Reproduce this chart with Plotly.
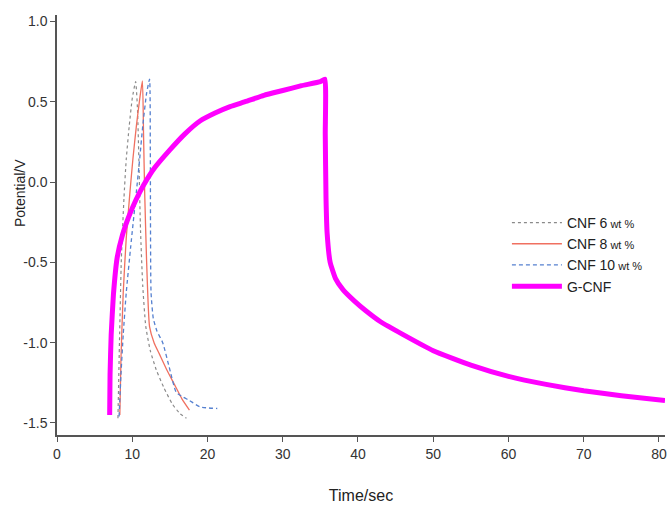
import plotly.graph_objects as go

# Galvanostatic charge/discharge curves
t_cnf6 = [8.1, 8.3, 8.55, 8.9, 9.2, 9.6, 10.0, 10.45, 10.7, 10.9, 11.1, 11.4, 11.8, 12.4, 13.2, 14.2, 15.3, 16.3, 17.2]
v_cnf6 = [-1.47, -1.0, -0.48, -0.1, 0.14, 0.35, 0.52, 0.625, 0.45, 0.1, -0.3, -0.65, -0.9, -1.05, -1.17, -1.28, -1.38, -1.44, -1.47]

t_cnf8 = [8.35, 8.5, 8.8, 9.2, 9.7, 10.1, 10.55, 11.0, 11.35, 11.5, 11.65, 11.9, 12.3, 12.9, 13.6, 14.6, 15.6, 16.6, 17.6]
v_cnf8 = [-1.45, -1.1, -0.69, -0.35, -0.06, 0.15, 0.35, 0.52, 0.63, 0.3, -0.06, -0.48, -0.9, -1.0, -1.07, -1.17, -1.26, -1.35, -1.42]

t_cnf10 = [8.25, 8.5, 8.8, 9.2, 9.8, 10.55, 11.0, 11.4, 11.9, 12.3, 12.4, 12.5, 12.8, 13.3, 14.05, 14.9, 15.85, 16.8, 17.6, 19.0, 21.3]
v_cnf10 = [-1.46, -1.2, -0.95, -0.69, -0.4, -0.06, 0.15, 0.35, 0.55, 0.64, 0.2, -0.69, -0.85, -0.93, -1.0, -1.15, -1.31, -1.34, -1.36, -1.4, -1.41]

t_gcnf = [7.0, 7.05, 7.2, 7.5, 8.0, 8.7, 9.5, 10.5, 11.5, 13, 15, 17, 19, 21, 23, 25, 27.5, 30, 32.5, 35.0, 35.6,
          35.65, 35.75, 35.9, 36.3, 37, 38, 39.5, 41, 43, 46, 50, 55, 60, 65, 70, 75, 80.8]
v_gcnf = [-1.45, -1.2, -0.95, -0.7, -0.47, -0.33, -0.22, -0.11, -0.02, 0.09, 0.2, 0.3, 0.38, 0.43, 0.47, 0.5, 0.54, 0.57, 0.6, 0.625, 0.64,
          0.3, -0.1, -0.32, -0.5, -0.6, -0.67, -0.74, -0.8, -0.87, -0.95, -1.05, -1.14, -1.21, -1.26, -1.3, -1.33, -1.36]

x_ticks = [0, 10, 20, 30, 40, 50, 60, 70, 80]
y_ticks = [-1.5, -1.0, -0.5, 0.0, 0.5, 1.0]

small = "<span style='font-size:11px'>"
fig = go.Figure()
fig.add_trace(go.Scatter(x=t_cnf6, y=v_cnf6, mode="lines",
                         name="CNF 6" + small + " wt %</span>",
                         line=dict(color="#8a8a8a", width=1.2, dash="dot", shape="spline", smoothing=0.5)))
fig.add_trace(go.Scatter(x=t_cnf8, y=v_cnf8, mode="lines",
                         name="CNF 8" + small + " wt %</span>",
                         line=dict(color="#f07060", width=1.3, shape="spline", smoothing=0.5)))
fig.add_trace(go.Scatter(x=t_cnf10, y=v_cnf10, mode="lines",
                         name="CNF 10" + small + " wt %</span>",
                         line=dict(color="#5580d0", width=1.3, dash="4px,3px", shape="spline", smoothing=0.5)))
fig.add_trace(go.Scatter(x=t_gcnf, y=v_gcnf, mode="lines", name="G-CNF",
                         line=dict(color="#ff00ff", width=5, shape="spline", smoothing=0.4)))

axis_common = dict(showgrid=False, zeroline=False, showline=True, linecolor="#555555",
                   linewidth=1.5, ticks="outside", ticklen=5, tickcolor="#555555",
                   tickfont=dict(family="Liberation Sans", size=14, color="#333333"))

fig.update_layout(
    width=667, height=506,
    margin=dict(l=57, r=0, t=15, b=71),
    paper_bgcolor="white", plot_bgcolor="white",
    font=dict(family="Liberation Sans", color="#222222"),
    xaxis=dict(range=[0, 80.8], tickvals=x_ticks, ticktext=[str(v) for v in x_ticks],
               ticklabeloverflow="allow",
               title=dict(text="Time/sec", font=dict(size=16, color="#222222"), standoff=29),
               **axis_common),
    yaxis=dict(range=[-1.575, 1.04], tickvals=y_ticks, ticktext=["%.1f" % v for v in y_ticks],
               **axis_common),
    annotations=[dict(text="Potential/V", textangle=-90, xref="paper", yref="paper",
                      x=-57 / 610 + 20 / 610, y=(435 - 193) / 420, xanchor="center", yanchor="middle",
                      showarrow=False, font=dict(size=14, color="#222222"))],
    legend=dict(x=0.74, y=0.543, xanchor="left", yanchor="top", bgcolor="rgba(0,0,0,0)",
                font=dict(size=14, color="#222222"), tracegroupgap=0, itemwidth=50),
    showlegend=True,
)

fig.write_html("out.html")
